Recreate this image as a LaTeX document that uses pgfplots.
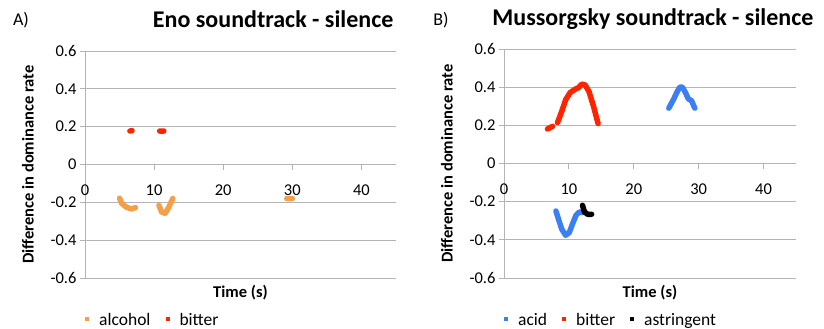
\documentclass[border=0pt]{standalone}
\usepackage{pgfplots}
\pgfplotsset{compat=1.18}
\usepackage{fontspec}
\setmainfont{Carlito}

\definecolor{alcoholc}{HTML}{F4A04B}
\definecolor{bitterc}{HTML}{FF2400}
\definecolor{acidc}{HTML}{3C7FF2}
\definecolor{gridc}{HTML}{B4B4B4}

\pgfplotsset{
  panel/.style={
    scale only axis,
    xmin=0, xmax=45, ymin=-0.6, ymax=0.6,
    axis x line=middle, axis y line=left,
    axis line style={-, draw=gridc, line width=1pt},
    hide obscured x ticks=false,
    xtick={0,10,20,30,40},
    xticklabels={0,10,20,30,40},
    ytick={-0.6,-0.4,-0.2,0,0.2,0.4,0.6},
    yticklabels={-0.6,-0.4,-0.2,0,0.2,0.4,0.6},
    ymajorgrids,
    grid style={draw=gridc, line width=1pt},
    major tick length=5pt,
    tick style={draw=gridc, line width=1pt},
    tick align=outside,
    ticklabel style={font=\fontsize{16.5}{19}\selectfont},
    xticklabel style={anchor=north, yshift=-12pt},
    label style={font=\bfseries\fontsize{16.5}{19}\selectfont},
    title style={font=\bfseries\fontsize{24}{28}\selectfont, anchor=center},
    unbounded coords=jump,
    legend columns=-1,
    legend style={draw=none, fill=none, anchor=west,
      font=\fontsize{17.5}{20}\selectfont,
      inner xsep=0pt, inner ysep=0pt,
      nodes={inner xsep=3pt, inner ysep=0pt},
      /tikz/every odd column/.append style={column sep=7pt},
      /tikz/every even column/.append style={column sep=12pt}},
    every axis plot/.append style={line width=5.5pt, line cap=round, line join=round, mark=none},
  },
  % small square swatch used in the legends
  swatch/.style={legend image code/.code={%
      \fill[##1, draw=none] (0pt,-0.5pt) rectangle (4pt,3.5pt);}},
}

\begin{document}
\begin{tikzpicture}
\useasboundingbox (0,0) rectangle (824pt,329pt);

% Panel A: Eno soundtrack
\begin{axis}[panel,
  at={(85pt,51pt)}, anchor=south west,
  width=311pt, height=227pt,
  title={Eno soundtrack - silence},
  title style={at={([yshift=26pt]axis description cs:0.605,1)}},
  xlabel={Time (s)},
  xlabel style={at={([yshift=-15pt]axis description cs:0.5,0)}, anchor=center},
  ylabel={Difference in dominance rate},
  ylabel style={at={([xshift=-57pt]axis description cs:0,0.5)}, anchor=center},
  legend style={at={([xshift=0pt,yshift=-42pt]axis description cs:0,0)}},
]
\addplot[color=alcoholc, swatch] table {
x y
5.0 -0.178
5.3 -0.205
6.0 -0.226
6.7 -0.235
7.3 -0.228
nan nan
10.7 -0.216
11.1 -0.252
11.6 -0.258
12.1 -0.228
12.7 -0.180
nan nan
29.2 -0.180
30.0 -0.180
};
\addlegendentry{alcohol}
\addplot[color=bitterc, swatch] table {
x y
6.5 0.177
6.8 0.179
nan nan
10.8 0.177
11.4 0.177
};
\addlegendentry{bitter}
\end{axis}

% Panel B: Mussorgsky soundtrack
\begin{axis}[panel,
  at={(504pt,51pt)}, anchor=south west,
  width=292pt, height=229pt,
  title={Mussorgsky soundtrack - silence},
  title style={at={([yshift=24pt]axis description cs:0.51,1)}},
  xlabel={Time (s)},
  xlabel style={at={([yshift=-15pt]axis description cs:0.5,0)}, anchor=center},
  ylabel={Difference in dominance rate},
  ylabel style={at={([xshift=-57pt]axis description cs:0,0.5)}, anchor=center},
  legend style={at={([xshift=0pt,yshift=-42pt]axis description cs:0,0)}},
]
\addplot[color=acidc, swatch] table {
x y
8.0 -0.249
8.4 -0.292
8.9 -0.344
9.5 -0.376
10.05 -0.362
10.6 -0.313
11.1 -0.271
11.6 -0.254
12.1 -0.257
nan nan
25.4 0.290
26.1 0.334
26.7 0.377
27.1 0.400
27.5 0.400
28.0 0.369
28.4 0.339
28.9 0.329
29.4 0.290
};
\addlegendentry{acid}
\addplot[color=bitterc, swatch] table {
x y
6.7 0.181
7.5 0.195
nan nan
8.25 0.215
8.9 0.273
9.5 0.334
10.2 0.372
11.0 0.390
11.5 0.398
12.0 0.416
12.5 0.412
13.1 0.377
13.8 0.299
14.5 0.209
};
\addlegendentry{bitter}
\addplot[color=black, swatch] table {
x y
12.1 -0.219
12.4 -0.254
12.9 -0.266
13.5 -0.266
};
\addlegendentry{astringent}
\end{axis}

\node[font=\fontsize{18}{21}\selectfont] at (21pt,309pt) {A)};
\node[font=\fontsize{18}{21}\selectfont] at (441pt,309pt) {B)};
\end{tikzpicture}
\end{document}
